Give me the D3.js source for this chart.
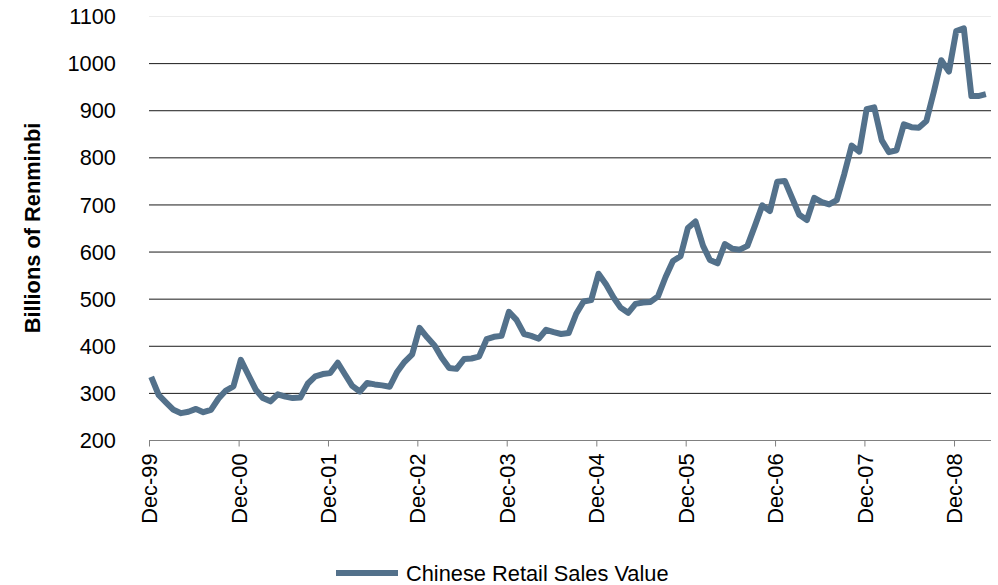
<!DOCTYPE html>
<html>
<head>
<meta charset="utf-8">
<script src="https://cdn.jsdelivr.net/npm/d3@7"></script>
<style>
  html, body { margin: 0; padding: 0; background: #fff; }
  svg { display: block; font-family: "Liberation Sans", Arial, sans-serif; }
</style>
</head>
<body>
<svg id="chart" width="998" height="585"></svg>
<script>
// Monthly Chinese retail sales, billions of renminbi, Dec-1999 through Apr-2009
const firstMonth = "1999-12";
const seriesName = "Chinese Retail Sales Value";
const sales = [
  334, 295, 279, 264, 257, 260, 266, 259, 264, 288, 305, 314,   // Dec-99 .. Nov-00
  370, 338, 306, 289, 282, 297, 292, 289, 290, 320, 335, 340,   // Dec-00 .. Nov-01
  342, 364, 338, 315, 303, 321, 318, 316, 313, 345, 366, 382,   // Dec-01 .. Nov-02
  438, 418, 400, 375, 353, 351, 372, 373, 377, 414, 419, 421,   // Dec-02 .. Nov-03
  472, 455, 425, 421, 415, 434, 429, 425, 427, 468, 494, 497,   // Dec-03 .. Nov-04
  553, 530, 502, 481, 470, 489, 492, 493, 505, 546, 580, 590,   // Dec-04 .. Nov-05
  650, 664, 612, 582, 575, 616, 606, 604, 612, 655, 698, 686,   // Dec-05 .. Nov-06
  748, 750, 712, 678, 667, 714, 705, 700, 709, 765, 825, 812,   // Dec-06 .. Nov-07
  902, 906, 836, 811, 815, 870, 864, 863, 877, 940, 1006, 982,  // Dec-07 .. Nov-08
  1068, 1074, 930, 930, 934                                     // Dec-08 .. Apr-09
];
const tickYears = [1999, 2000, 2001, 2002, 2003, 2004, 2005, 2006, 2007, 2008];
const yTicks = [200, 300, 400, 500, 600, 700, 800, 900, 1000, 1100];
const yTitle = "Billions of Renminbi";

const FONT = "21.8px";
const LINE_COLOR = "#53718b";

const parseMonth = d3.timeParse("%Y-%m");
const start = parseMonth(firstMonth);
// each monthly figure is stamped on the 10th of its month
const data = sales.map((v, i) => ({
  date: d3.timeDay.offset(d3.timeMonth.offset(start, i), 9),
  value: v
}));
const tickDates = tickYears.map(y => new Date(y, 11, 1));

const svg = d3.select("#chart");
const x = d3.scaleTime()
  .domain([start, new Date(2009, 4, 1)])
  .range([149, 991]);
const y = d3.scaleLinear().domain([200, 1100]).range([440, 16]);

// horizontal gridlines
svg.append("g").selectAll("line")
  .data(yTicks.filter(t => t > 200))
  .join("line")
  .attr("x1", x.range()[0]).attr("x2", x.range()[1])
  .attr("y1", d => y(d) + 0.5).attr("y2", d => y(d) + 0.5)
  .attr("stroke", d => d === 1100 ? "#ececec" : "#1a1a1a")
  .attr("stroke-width", 1);

// y axis labels
const yAxis = d3.axisLeft(y).tickValues(yTicks).tickSize(0).tickPadding(0)
  .tickFormat(d3.format("d"));
const gy = svg.append("g").attr("transform", "translate(116,0)").call(yAxis);
gy.select(".domain").remove();
gy.selectAll("text")
  .attr("font-size", FONT)
  .attr("font-family", "'Liberation Sans', Arial, sans-serif")
  .attr("fill", "#000")
  .attr("dy", "0.35em");

// x axis
const xAxis = d3.axisBottom(x)
  .tickValues(tickDates)
  .tickSize(6)
  .tickPadding(0)
  .tickFormat(d3.timeFormat("%b-%y"));
const gx = svg.append("g").attr("transform", "translate(0,440.5)").call(xAxis);
gx.select(".domain").attr("stroke", "#808080").attr("d", `M${x.range()[0]},0H${x.range()[1]}`);
gx.selectAll(".tick line").attr("stroke", "#808080");
gx.selectAll("text")
  .attr("font-size", FONT)
  .attr("font-family", "'Liberation Sans', Arial, sans-serif")
  .attr("fill", "#000")
  .attr("text-anchor", "end")
  .attr("transform", "rotate(-90)")
  .attr("x", -13)
  .attr("y", 0)
  .attr("dy", "0.35em");

// y axis title
svg.append("text")
  .attr("transform", "translate(32,228) rotate(-90)")
  .attr("text-anchor", "middle")
  .attr("dy", "0.35em")
  .attr("font-size", FONT)
  .attr("font-weight", "bold")
  .text(yTitle);

// series line
const line = d3.line().x(d => x(d.date)).y(d => y(d.value));
svg.append("path")
  .datum(data)
  .attr("fill", "none")
  .attr("stroke", LINE_COLOR)
  .attr("stroke-width", 6)
  .attr("stroke-linejoin", "round")
  .attr("d", line);

// legend
const legend = svg.append("g").attr("transform", "translate(336,573)");
legend.append("line")
  .attr("x1", 0).attr("x2", 62).attr("y1", 0).attr("y2", 0)
  .attr("stroke", LINE_COLOR).attr("stroke-width", 6);
legend.append("text")
  .attr("x", 70).attr("y", 0).attr("dy", "0.35em")
  .attr("font-size", FONT)
  .text(seriesName);
</script>
</body>
</html>
